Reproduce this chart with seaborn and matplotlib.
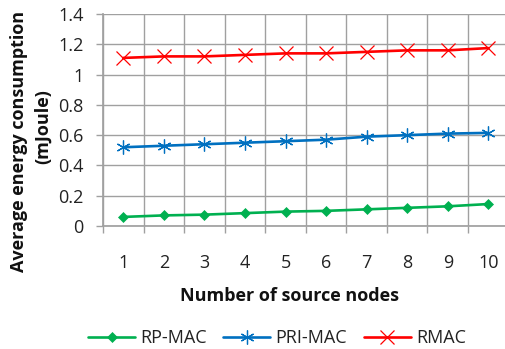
import matplotlib
matplotlib.use("Agg")
import matplotlib.pyplot as plt
import seaborn as sns
import pandas as pd
import numpy as np
from matplotlib.ticker import FixedLocator

nodes = [1, 2, 3, 4, 5, 6, 7, 8, 9, 10]
rp_mac = [0.06, 0.07, 0.075, 0.085, 0.095, 0.10, 0.11, 0.12, 0.13, 0.145]
pri_mac = [0.52, 0.53, 0.54, 0.55, 0.56, 0.57, 0.59, 0.60, 0.61, 0.615]
rmac = [1.11, 1.12, 1.12, 1.13, 1.14, 1.14, 1.15, 1.16, 1.16, 1.175]
series_names = ["RP-MAC", "PRI-MAC", "RMAC"]
yticks = [0, 0.2, 0.4, 0.6, 0.8, 1, 1.2, 1.4]
ytick_labels = ["0", "0.2", "0.4", "0.6", "0.8", "1", "1.2", "1.4"]

df = pd.DataFrame({
    "nodes": nodes * 3,
    "value": rp_mac + pri_mac + rmac,
    "series": sum([[n] * len(nodes) for n in series_names], []),
})

sns.set_theme(style="white")
plt.rcParams['font.family'] = ['Open Sans', 'DejaVu Sans']

W, H = 505, 349
fig = plt.figure(figsize=(W / 100, H / 100), dpi=100)
ax = fig.add_axes([103 / W, (H - 226) / H, 405.6 / W, 212 / H])

colors = {"RP-MAC": "#00B050", "PRI-MAC": "#0070C0", "RMAC": "#FF0000"}
markers = {"RP-MAC": "D", "PRI-MAC": (6, 2, 0), "RMAC": "x"}
msizes = {"RP-MAC": 5.5, "PRI-MAC": 10, "RMAC": 9.5}

for name in series_names:
    sub = df[df["series"] == name]
    sns.lineplot(data=sub, x="nodes", y="value", ax=ax, color=colors[name],
                 marker=markers[name], markersize=msizes[name],
                 markeredgecolor=colors[name], markeredgewidth=0.9 if name != "RP-MAC" else 0.5,
                 linewidth=1.9, label=name, legend=False)

ax.set_xlim(0.5, 10.5)
ax.set_ylim(0, 1.4)
ax.set_yticks(yticks)
ax.set_yticklabels(ytick_labels)
ax.set_xticks(nodes)
ax.set_xticklabels([str(n) for n in nodes])
ax.xaxis.set_minor_locator(FixedLocator(np.arange(0.5, 11, 1)))

gc = "#A0A0A0"
ax.grid(True, which="major", axis="y", color=gc, linewidth=1.0)
ax.grid(True, which="minor", axis="x", color=gc, linewidth=1.0)
ax.grid(False, which="major", axis="x")
for s in ax.spines.values():
    s.set_visible(False)
ax.spines["bottom"].set_visible(True)
ax.spines["bottom"].set_color(gc)
ax.spines["left"].set_visible(True)
ax.spines["left"].set_color(gc)

ax.tick_params(axis="y", which="major", direction="out", length=5, width=1, color=gc,
               pad=9, labelsize=13, labelcolor="#222222", left=True)
ax.tick_params(axis="x", which="major", length=0, pad=20, labelsize=13, labelcolor="#222222")
ax.tick_params(axis="x", which="minor", direction="out", length=5, width=1, color=gc, bottom=True)
ax.set_xlabel("")
ax.set_ylabel("")

fig.text(289 / W, 1 - 296 / H, "Number of source nodes", ha="center", va="center",
         fontsize=13, fontweight="bold", color="#111111")
fig.text(19 / W, 1 - 141 / H, "Average energy consumption", ha="center", va="center",
         rotation=90, fontsize=13, fontweight="bold", color="#111111")
fig.text(43 / W, 1 - 127 / H, "(mJoule)", ha="center", va="center",
         rotation=90, fontsize=13, fontweight="bold", color="#111111")

handles, labels = ax.get_legend_handles_labels()
fig.legend(handles, labels, loc="center", bbox_to_anchor=(277 / W, 1 - 338 / H), ncol=3,
           frameon=False, fontsize=13, handlelength=2.6, handletextpad=0.3,
           columnspacing=0.9, labelcolor="#222222")

fig.savefig("out.png", dpi=100)
